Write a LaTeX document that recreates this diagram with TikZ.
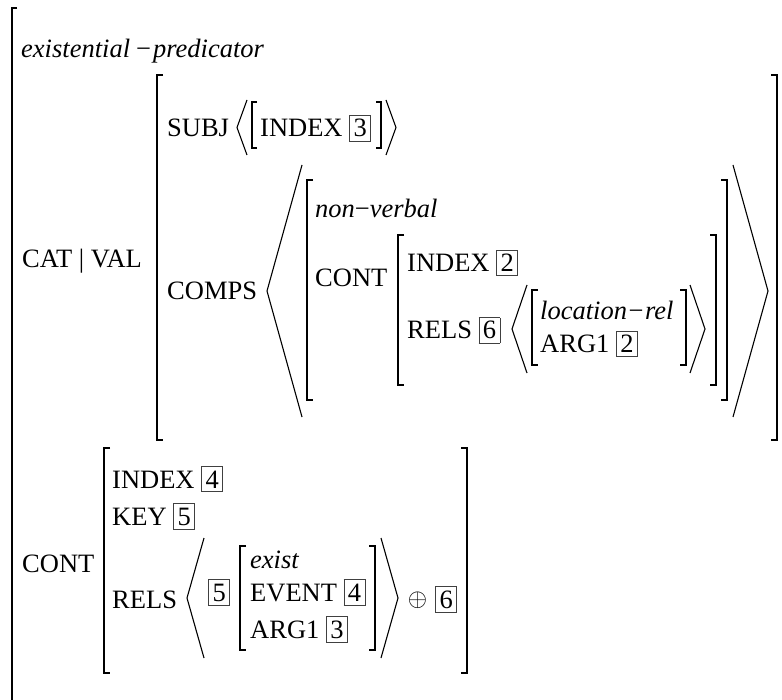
\documentclass[tikz,border=0pt]{standalone}
\usepackage{fontspec}
\setmainfont{Liberation Serif}
\newcommand{\bx}[1]{{\setlength{\fboxsep}{3.5pt}\setlength{\fboxrule}{0.8pt}\color{black!75}\fbox{\color{black}#1}}}
\begin{document}
\begin{tikzpicture}[x=1pt,y=-1pt,
  t/.style={inner sep=0pt, anchor=base west, font=\fontsize{26.5}{32}\selectfont},
  brk/.style={line width=1.6pt},
  ang/.style={line width=1.1pt, line join=miter}]
\useasboundingbox (0,0) rectangle (782,700);

% outer matrix
\draw[brk] (17,8) -- (12,8) -- (12,710);
\node[t] (typ) at (21,58) {\textit{existential}\hspace{6pt}−\hspace{2pt}\textit{predicator}};

% CAT | VAL
\node[t] (catval) at (22,268) {CAT | VAL};
\draw[brk] (163,75) -- (157,75) -- (157,440) -- (163,440);
\draw[brk] (771,75) -- (777,75) -- (777,440) -- (771,440);

% SUBJ
\node[t] (subj) at (167,137) {SUBJ};
\draw[ang] (247,100) -- (237,127.5) -- (247,155);
\draw[brk] (257,102) -- (252,102) -- (252,148) -- (257,148);
\node[t] (sidx) at (260,137) {INDEX \bx{3}};
\draw[brk] (376,102) -- (381,102) -- (381,148) -- (376,148);
\draw[ang] (386,100) -- (396,127.5) -- (386,155);

% COMPS
\node[t] (comps) at (167,300) {COMPS};
\draw[ang] (302,165) -- (267,291) -- (302,417);
\draw[brk] (313,180) -- (307,180) -- (307,400) -- (313,400);
\node[t] (nv) at (315,218) {\textit{non}−\textit{verbal}};
\node[t] (ncont) at (315,287) {CONT};
\draw[brk] (404,235) -- (398,235) -- (398,385) -- (404,385);
\node[t] (nidx) at (407,272) {INDEX \bx{2}};
\node[t] (nrels) at (407,339) {RELS \bx{6}};
\draw[ang] (527,285) -- (512,329) -- (527,373);
\draw[brk] (538,290) -- (532,290) -- (532,365) -- (538,365);
\node[t] (loc) at (540,320) {\textit{location}\hspace{1.5pt}−\hspace{1.5pt}\textit{rel}};
\node[t] (larg) at (540,353) {ARG1 \bx{2}};
\draw[brk] (680,290) -- (686,290) -- (686,365) -- (680,365);
\draw[ang] (690,285) -- (705,329) -- (690,373);
\draw[brk] (710,235) -- (716,235) -- (716,385) -- (710,385);
\draw[brk] (721,180) -- (727,180) -- (727,400) -- (721,400);
\draw[ang] (733,165) -- (768,291) -- (733,417);

% bottom CONT
\node[t] (bcont) at (22,572) {CONT};
\draw[brk] (110,448) -- (104,448) -- (104,673) -- (110,673);
\node[t] (bidx) at (112,488) {INDEX \bx{4}};
\node[t] (bkey) at (112,525) {KEY \bx{5}};
\node[t] (brels) at (112,608) {RELS};
\draw[ang] (204,538) -- (187,598) -- (204,658);
\node[t] (b5) at (208,601) {\bx{5}};
\draw[brk] (246,546) -- (240,546) -- (240,650) -- (246,650);
\node[t] (ex) at (250,568) {\textit{exist}};
\node[t] (ev) at (250,601) {EVENT \bx{4}};
\node[t] (ea) at (250,638) {ARG1 \bx{3}};
\draw[brk] (369,546) -- (375,546) -- (375,650) -- (369,650);
\draw[ang] (381,538) -- (398,598) -- (381,658);
\node[inner sep=0pt, font=\fontsize{26.5}{32}\selectfont] (op) at (417.5,600) {$\oplus$};
\node[t] (b6) at (435,608) {\bx{6}};
\draw[brk] (461,448) -- (467,448) -- (467,673) -- (461,673);
\end{tikzpicture}
\end{document}
